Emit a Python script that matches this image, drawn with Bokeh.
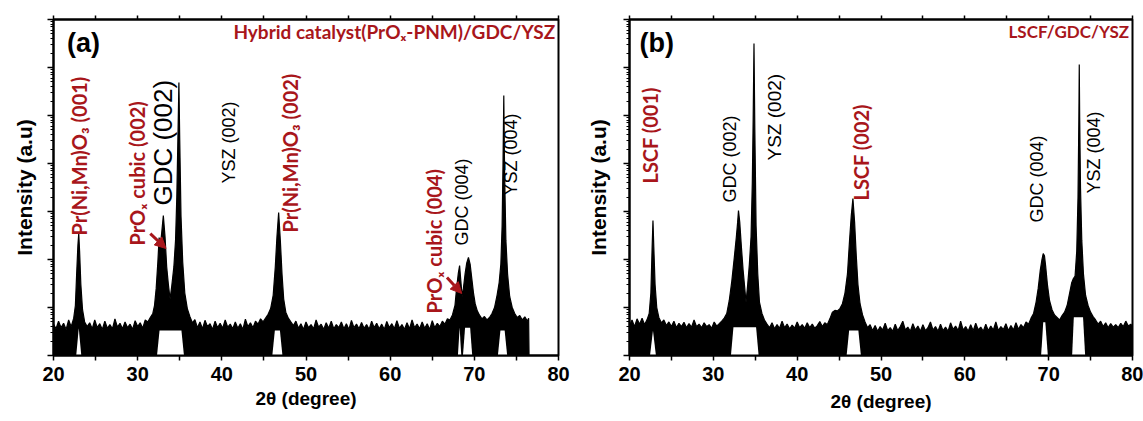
import math
from bokeh.plotting import figure
from bokeh.models import Range1d, FixedTicker, LinearAxis, Label, Arrow, NormalHead
from bokeh.layouts import row
from bokeh.embed import file_html
from bokeh.resources import INLINE

RED = "#a8161b"
FLOOR = 10

# ---------------- data: panel (a) Hybrid catalyst(PrOx-PNM)/GDC/YSZ ----------------
a_x = [
    20.0, 20.3, 20.6, 20.9, 21.2, 21.5, 21.8, 22.1,
    22.4, 22.6, 22.75, 22.9, 23.0, 23.1, 23.25, 23.45,
    23.7, 24.0, 24.3, 24.6, 24.9, 25.2, 25.5, 25.8,
    26.1, 26.4, 26.7, 27.0, 27.3, 27.6, 27.9, 28.2,
    28.5, 28.8, 29.1, 29.4, 29.7, 30.0, 30.3, 30.6,
    30.9, 31.2, 31.5, 31.8, 32.0, 32.2, 32.4, 32.55,
    32.7, 32.85, 33.05, 33.25, 33.45, 33.65, 33.85, 34.05,
    34.3, 34.5, 34.65, 34.8, 34.9, 35.0, 35.15, 35.35,
    35.6, 35.9, 36.2, 36.5, 36.8, 37.1, 37.4, 37.7,
    38.0, 38.3, 38.6, 38.9, 39.2, 39.5, 39.8, 40.1,
    40.4, 40.7, 41.0, 41.3, 41.6, 41.9, 42.2, 42.5,
    42.8, 43.1, 43.4, 43.7, 44.0, 44.3, 44.6, 44.9,
    45.2, 45.5, 45.8, 46.1, 46.35, 46.55, 46.75, 46.95,
    47.15, 47.35, 47.6, 47.9, 48.2, 48.5, 48.8, 49.1,
    49.4, 49.7, 50.0, 50.3, 50.6, 50.9, 51.2, 51.5,
    51.8, 52.1, 52.4, 52.7, 53.0, 53.3, 53.6, 53.9,
    54.2, 54.5, 54.8, 55.1, 55.4, 55.7, 56.0, 56.3,
    56.6, 56.9, 57.2, 57.5, 57.8, 58.1, 58.4, 58.7,
    59.0, 59.3, 59.6, 59.9, 60.2, 60.5, 60.8, 61.1,
    61.4, 61.7, 62.0, 62.3, 62.6, 62.9, 63.2, 63.5,
    63.8, 64.1, 64.4, 64.7, 65.0, 65.3, 65.6, 65.9,
    66.2, 66.5, 66.8, 67.1, 67.4, 67.7, 67.9, 68.1,
    68.25, 68.4, 68.55, 68.7, 68.9, 69.1, 69.3, 69.5,
    69.7, 69.9, 70.1, 70.35, 70.6, 70.9, 71.2, 71.5,
    71.8, 72.1, 72.4, 72.7, 72.95, 73.15, 73.3, 73.4,
    73.5, 73.6, 73.75, 73.95, 74.2, 74.5, 74.8, 75.1,
    75.4, 75.7, 76.0, 76.3, 76.45, 76.5,
]
a_int = [
    45, 36, 52, 38, 47, 35, 55, 40,
    60, 110, 500, 2000, 3480, 1500, 300, 90,
    50, 40, 48, 36, 55, 38, 46, 35,
    52, 37, 44, 36, 58, 39, 47, 36,
    50, 38, 45, 35, 53, 40, 48, 37,
    55, 50, 62, 75, 110, 250, 900, 2870,
    2000, 3500, 8250, 3000, 700, 300, 150, 280,
    700, 2500, 20000, 500000, 4870000, 300000, 8000, 900,
    200, 95, 65, 48, 56, 38, 50, 36,
    54, 40, 46, 35, 52, 38, 47, 37,
    55, 39, 45, 36, 50, 37, 46, 35,
    57, 40, 48, 38, 52, 45, 58, 50,
    60, 72, 95, 180, 700, 3000, 9530, 2500,
    500, 150, 80, 60, 50, 42, 52, 37,
    46, 35, 50, 38, 44, 36, 55, 39,
    45, 35, 48, 37, 52, 36, 44, 38,
    50, 36, 46, 35, 54, 38, 45, 36,
    49, 37, 44, 35, 52, 38, 47, 36,
    45, 35, 51, 38, 46, 36, 53, 37,
    44, 35, 48, 36, 55, 38, 45, 36,
    50, 37, 46, 35, 53, 38, 47, 40,
    52, 45, 58, 55, 70, 110, 260, 520,
    750, 350, 170, 250, 500, 850, 1100, 800,
    400, 200, 120, 85, 70, 58, 65, 55,
    62, 75, 100, 180, 330, 800, 5000, 80000,
    2610000, 60000, 2500, 500, 170, 100, 75, 62,
    68, 55, 64, 52, 60, 10,
]
# white gaps under the peaks (lower envelope of the noisy trace)
a_gap_x = [[22.7, 23.0, 23.3], [32.3, 32.6, 35.2, 35.5], [46.0, 46.3, 46.9, 47.2],
           [68.05, 68.25, 68.45], [68.65, 68.9, 69.5, 69.75], [72.8, 73.1, 73.6, 73.9]]
a_gap_y = [[10, 37, 10], [10, 33, 33, 10], [10, 33, 33, 10],
           [10, 38, 10], [10, 38, 38, 10], [10, 33, 33, 10]]

# ---------------- data: panel (b) LSCF/GDC/YSZ ----------------
b_x = [
    20.0, 20.3, 20.6, 20.9, 21.2, 21.5, 21.8, 22.1,
    22.35, 22.55, 22.7, 22.8, 22.9, 23.05, 23.25, 23.5,
    23.8, 24.1, 24.4, 24.7, 25.0, 25.3, 25.6, 25.9,
    26.2, 26.5, 26.8, 27.1, 27.4, 27.7, 28.0, 28.3,
    28.6, 28.9, 29.2, 29.5, 29.8, 30.1, 30.4, 30.7,
    31.0, 31.3, 31.6, 31.9, 32.2, 32.5, 32.75, 32.9,
    33.0, 33.15, 33.35, 33.55, 33.75, 33.9, 34.1, 34.3,
    34.5, 34.65, 34.75, 34.85, 34.95, 35.1, 35.3, 35.5,
    35.8, 36.1, 36.4, 36.7, 37.0, 37.3, 37.6, 37.9,
    38.2, 38.5, 38.8, 39.1, 39.4, 39.7, 40.0, 40.3,
    40.6, 40.9, 41.2, 41.5, 41.8, 42.1, 42.4, 42.7,
    43.0, 43.3, 43.6, 43.9, 44.2, 44.5, 44.8, 45.1,
    45.4, 45.7, 46.0, 46.25, 46.45, 46.65, 46.85, 47.05,
    47.25, 47.5, 47.8, 48.1, 48.4, 48.7, 49.0, 49.3,
    49.6, 49.9, 50.2, 50.5, 50.8, 51.1, 51.4, 51.7,
    52.0, 52.3, 52.6, 52.9, 53.2, 53.5, 53.8, 54.1,
    54.4, 54.7, 55.0, 55.3, 55.6, 55.9, 56.2, 56.5,
    56.8, 57.1, 57.4, 57.7, 58.0, 58.3, 58.6, 58.9,
    59.2, 59.5, 59.8, 60.1, 60.4, 60.7, 61.0, 61.3,
    61.6, 61.9, 62.2, 62.5, 62.8, 63.1, 63.4, 63.7,
    64.0, 64.3, 64.6, 64.9, 65.2, 65.5, 65.8, 66.1,
    66.4, 66.7, 67.0, 67.3, 67.6, 67.9, 68.2, 68.5,
    68.75, 69.0, 69.2, 69.35, 69.5, 69.65, 69.85, 70.1,
    70.4, 70.7, 71.0, 71.3, 71.6, 71.9, 72.2, 72.5,
    72.75, 72.95, 73.15, 73.35, 73.5, 73.6, 73.65, 73.7,
    73.8, 73.95, 74.15, 74.4, 74.7, 75.0, 75.3, 75.6,
    75.9, 76.2, 76.5, 76.8, 77.1, 77.4, 77.7, 78.0,
    78.3, 78.6, 78.9, 79.2, 79.5, 79.8, 80.0,
]
b_int = [
    42, 55, 40, 58, 45, 60, 44, 56,
    75, 200, 1800, 6490, 1800, 300, 100, 62,
    48, 55, 42, 50, 40, 52, 38, 47,
    40, 49, 38, 46, 39, 55, 40, 45,
    38, 48, 40, 44, 37, 50, 41, 46,
    52, 60, 75, 140, 350, 1100, 3000, 6000,
    10500, 6000, 1800, 600, 250, 129, 300, 800,
    3000, 40000, 800000, 31600000, 500000, 5000, 500, 130,
    75, 55, 45, 38, 48, 36, 44, 37,
    52, 38, 45, 36, 43, 37, 50, 38,
    44, 37, 48, 38, 45, 37, 42, 51,
    40, 48, 44, 58, 80, 87, 85, 95,
    120, 200, 500, 2500, 8000, 18660, 6000, 1200,
    300, 120, 70, 50, 38, 44, 33, 42,
    32, 40, 34, 47, 33, 38, 32, 45,
    33, 40, 52, 34, 39, 32, 46, 34,
    41, 32, 44, 33, 38, 50, 34, 40,
    32, 45, 33, 39, 32, 48, 35, 41,
    33, 52, 34, 40, 32, 44, 33, 47,
    34, 39, 32, 45, 33, 41, 34, 50,
    33, 40, 35, 46, 33, 42, 34, 48,
    35, 44, 38, 50, 45, 60, 75, 130,
    250, 600, 1000, 1330, 1200, 700, 300, 140,
    90, 70, 62, 55, 68, 80, 110, 200,
    330, 402, 450, 1500, 20000, 800000, 11500000, 900000,
    30000, 2500, 500, 180, 110, 80, 65, 55,
    45, 52, 40, 48, 38, 46, 39, 44,
    38, 47, 40, 52, 41, 45, 40,
]
b_gap_x = [[22.45, 22.8, 23.15], [32.1, 32.4, 35.1, 35.4], [45.9, 46.2, 47.3, 47.6],
           [69.1, 69.35, 69.6, 69.9], [72.8, 73.0, 74.1, 74.35]]
b_gap_y = [[10, 33, 10], [10, 39, 39, 10], [10, 33, 33, 10],
           [10, 49, 49, 10], [10, 63, 63, 10]]

x_ticks = [20, 30, 40, 50, 60, 70, 80]
x_minor = [25, 35, 45, 55, 65, 75]
y_major = [10 ** k for k in range(1, 9)]
y_minor = [m * 10 ** k for k in range(1, 8) for m in range(2, 10)]

AX_FONT = "Liberation Sans"
RED_FONT = "Lato"


def make_fig(width, b_left, b_right, label_standoff, xlabel_standoff):
    p = figure(width=width, height=418, x_range=Range1d(20, 80), y_range=Range1d(10, 1e8),
               y_axis_type="log", output_backend="svg", toolbar_location=None,
               min_border_left=b_left, min_border_right=b_right,
               min_border_top=19, min_border_bottom=63)
    p.grid.visible = False
    p.outline_line_color = "black"
    p.outline_line_width = 2
    p.background_fill_color = "white"
    p.border_fill_color = "white"

    xa = p.xaxis[0]
    xa.ticker = FixedTicker(ticks=x_ticks, minor_ticks=x_minor)
    xa.axis_line_width = 2
    xa.major_tick_out = 5
    xa.major_tick_in = 0
    xa.minor_tick_out = 5
    xa.minor_tick_in = 0
    xa.major_tick_line_width = 1.5
    xa.minor_tick_line_width = 1.5
    xa.major_label_text_font = AX_FONT
    xa.major_label_text_font_style = "bold"
    xa.major_label_text_font_size = "20px"
    xa.major_label_text_color = "black"
    xa.major_label_standoff = 6
    xa.axis_label = "2θ (degree)"
    xa.axis_label_text_font = AX_FONT
    xa.axis_label_text_font_style = "bold"
    xa.axis_label_text_font_size = "19px"
    xa.axis_label_text_color = "black"
    xa.axis_label_standoff = xlabel_standoff

    ya = p.yaxis[0]
    ya.ticker = FixedTicker(ticks=y_major, minor_ticks=y_minor)
    ya.axis_line_width = 2
    ya.major_tick_out = 6
    ya.major_tick_in = 0
    ya.minor_tick_out = 3
    ya.minor_tick_in = 0
    ya.major_tick_line_width = 1.5
    ya.minor_tick_line_width = 1
    ya.major_label_text_font_size = "1px"
    ya.major_label_text_color = None
    ya.major_label_standoff = 0
    ya.axis_label = "Intensity (a.u)"
    ya.axis_label_text_font = AX_FONT
    ya.axis_label_text_font_style = "bold"
    ya.axis_label_text_font_size = "21px"
    ya.axis_label_text_color = "black"
    ya.axis_label_standoff = label_standoff

    top = LinearAxis(ticker=FixedTicker(ticks=list(range(20, 81, 5))),
                     major_label_text_font_size="1px", major_label_text_color=None,
                     major_label_standoff=0,
                     major_tick_out=4, major_tick_in=0, minor_tick_out=0, minor_tick_in=0,
                     axis_line_width=2, major_tick_line_width=1.5)
    p.add_layout(top, "above")
    return p


def draw_trace(p, xs, ys, gx, gy):
    n = min(len(xs), len(ys))
    xs, ys = xs[:n], ys[:n]
    p.varea(x=xs, y1=[FLOOR] * n, y2=ys, fill_color="black")
    p.patches(xs=gx, ys=gy, fill_color="white", line_color=None)
    p.line(xs, ys, line_color="black", line_width=1.2)


def vlabel(p, text, x, y, size, color, font, bold):
    p.add_layout(Label(x=x, y=y, text=text, angle=math.pi / 2, text_align="left",
                       text_baseline="middle", text_font=font,
                       text_font_style="bold" if bold else "normal",
                       text_font_size=size, text_color=color))


# ---------------- panel (a) ----------------
pa = make_fig(583, 53, 25, 12, 4)
draw_trace(pa, a_x, a_int, a_gap_x, a_gap_y)
pa.add_layout(Label(x=21.6, y=6.8e7, text="(a)", text_align="left", text_baseline="top",
                    text_font=AX_FONT, text_font_style="bold", text_font_size="27px",
                    text_color="black"))
pa.add_layout(Label(x=79.6, y=5.6e7, text="Hybrid catalyst(PrOₓ-PNM)/GDC/YSZ",
                    text_align="right", text_baseline="middle", text_font=RED_FONT,
                    text_font_style="bold", text_font_size="19px", text_color=RED))
vlabel(pa, "Pr(Ni,Mn)O₃ (001)", 23.0, 3160, "20px", RED, RED_FONT, True)
vlabel(pa, "PrOₓ cubic (002)", 29.95, 1950, "20px", RED, RED_FONT, True)
vlabel(pa, "GDC (002)", 33.0, 13300, "26px", "black", AX_FONT, False)
vlabel(pa, "YSZ (002)", 40.9, 38300, "18px", "black", AX_FONT, False)
vlabel(pa, "Pr(Ni,Mn)O₃ (002)", 48.05, 3650, "20px", RED, RED_FONT, True)
vlabel(pa, "PrOₓ cubic (004)", 65.2, 75, "20px", RED, RED_FONT, True)
vlabel(pa, "GDC (004)", 68.5, 1950, "18px", "black", AX_FONT, False)
vlabel(pa, "YSZ (004)", 74.3, 21500, "18px", "black", AX_FONT, False)
pa.add_layout(Arrow(end=NormalHead(size=11, fill_color=RED, line_color=RED),
                    x_start=31.5, y_start=3470, x_end=33.37, y_end=1695,
                    line_color=RED, line_width=3))
pa.add_layout(Arrow(end=NormalHead(size=11, fill_color=RED, line_color=RED),
                    x_start=66.75, y_start=422, x_end=68.5, y_end=196,
                    line_color=RED, line_width=3))

# ---------------- panel (b) ----------------
pb = make_fig(560, 44, 11, 14, 7)
draw_trace(pb, b_x, b_int, b_gap_x, b_gap_y)
pb.add_layout(Label(x=21.2, y=6.8e7, text="(b)", text_align="left", text_baseline="top",
                    text_font=AX_FONT, text_font_style="bold", text_font_size="27px",
                    text_color="black"))
pb.add_layout(Label(x=79.6, y=5.6e7, text="LSCF/GDC/YSZ",
                    text_align="right", text_baseline="middle", text_font=RED_FONT,
                    text_font_style="bold", text_font_size="17px", text_color=RED))
vlabel(pb, "LSCF (001)", 22.5, 38300, "20px", RED, RED_FONT, True)
vlabel(pb, "GDC (002)", 32.0, 15400, "18px", "black", AX_FONT, False)
vlabel(pb, "YSZ (002)", 37.3, 115500, "19px", "black", AX_FONT, False)
vlabel(pb, "LSCF (002)", 47.6, 16950, "20px", RED, RED_FONT, True)
vlabel(pb, "GDC (004)", 68.6, 5900, "18px", "black", AX_FONT, False)
vlabel(pb, "YSZ (004)", 75.4, 23700, "18px", "black", AX_FONT, False)

layout = row(pa, pb)
open("out.html", "w").write(file_html(layout, INLINE))
